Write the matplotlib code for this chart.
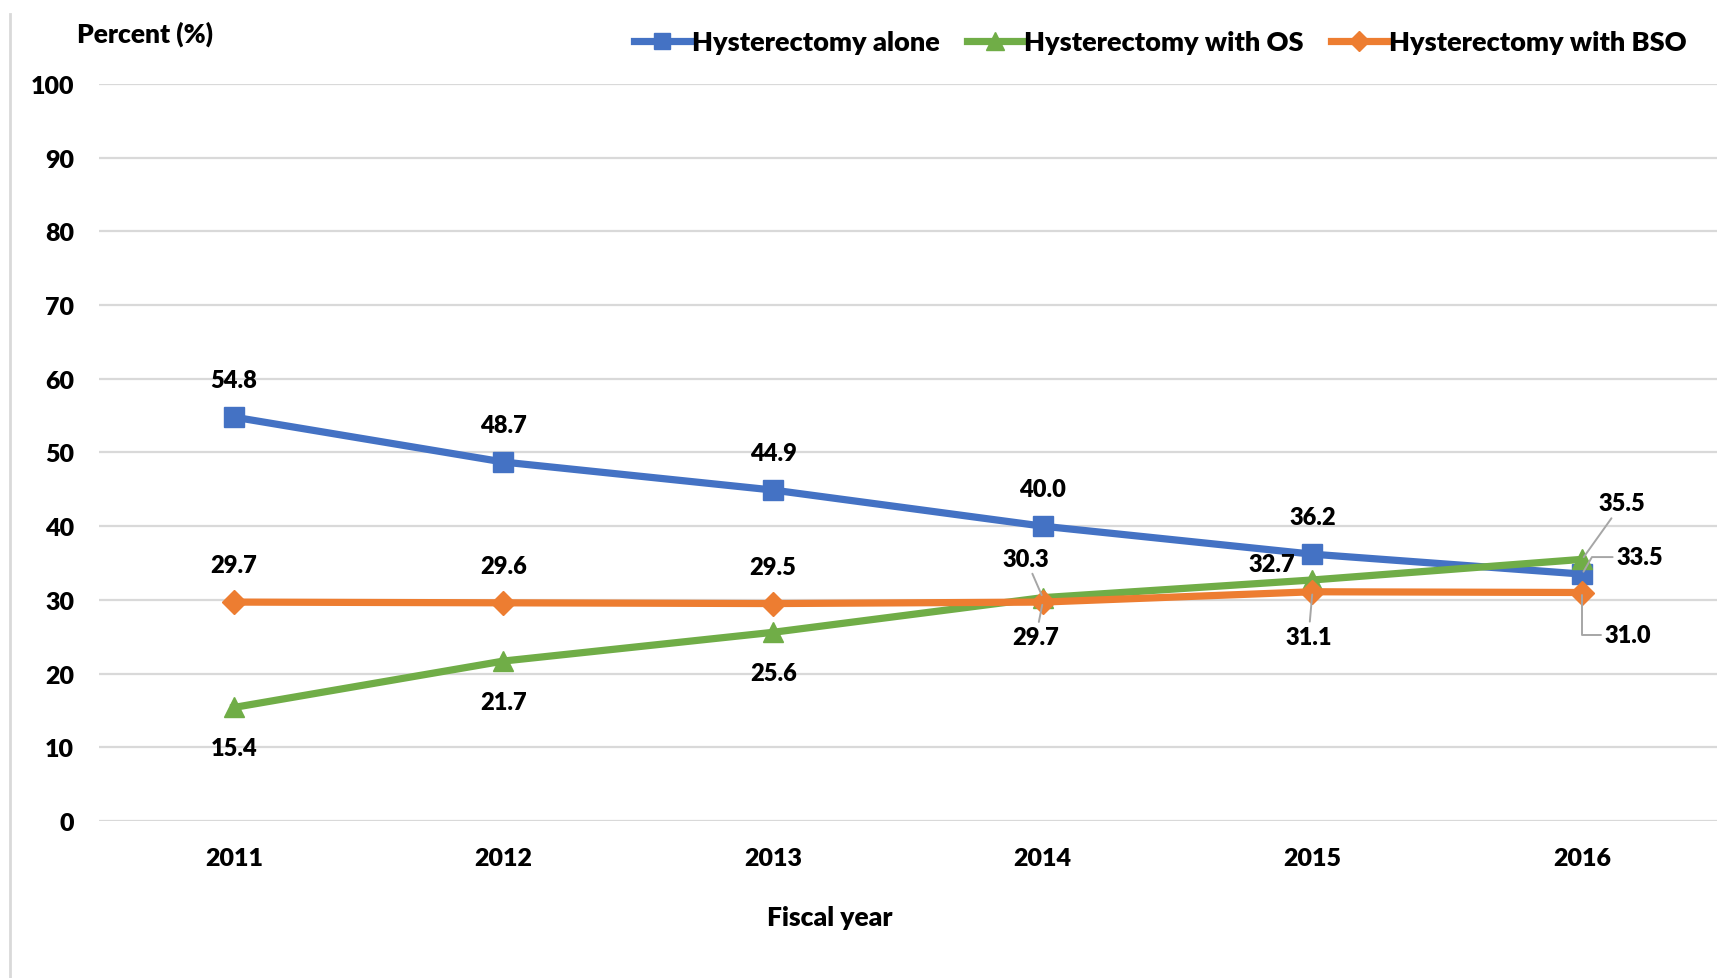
import matplotlib
matplotlib.use("Agg")
import matplotlib.pyplot as plt
from matplotlib.lines import Line2D

years = ["2011", "2012", "2013", "2014", "2015", "2016"]
alone = [54.8, 48.7, 44.9, 40.0, 36.2, 33.5]
with_os = [15.4, 21.7, 25.6, 30.3, 32.7, 35.5]
with_bso = [29.7, 29.6, 29.5, 29.7, 31.1, 31.0]
names = ["Hysterectomy alone", "Hysterectomy with OS", "Hysterectomy with BSO"]

plt.rcParams["font.family"] = ["Lato", "DejaVu Sans"]
plt.rcParams["font.weight"] = "heavy"

fig = plt.figure(figsize=(17.28, 9.79), dpi=100)
ax = fig.add_axes([0.0573, 0.1604, 0.9363, 0.7528])

x = list(range(len(years)))
blue, green, orange = "#4472C4", "#70AD47", "#ED7D31"
ax.plot(x, alone, color=blue, lw=5.2, marker="s", ms=14, label=names[0], zorder=3)
ax.plot(x, with_os, color=green, lw=5.2, marker="^", ms=15, label=names[1], zorder=4)
ax.plot(x, with_bso, color=orange, lw=5.2, marker="D", ms=12, label=names[2], zorder=5)

ax.set_xlim(-0.5, 5.5)
ax.set_ylim(0, 100)
ax.set_yticks(range(0, 101, 10))
ax.set_xticks(x)
ax.set_xticklabels(years)
ax.grid(axis="y", color="#d9d9d9", lw=1.6)
ax.set_axisbelow(True)
for s in ax.spines.values():
    s.set_visible(False)
ax.tick_params(length=0, labelsize=18)
ax.tick_params(axis="y", pad=18)
ax.tick_params(axis="x", pad=19)

# label offsets in pixels (dx, dy), leader style
lead = dict(arrowstyle="-", color="#a6a6a6", lw=1.4, shrinkA=1, shrinkB=2)
offs = {
    0: [(0, 37)] * 5 + [(58, 17)],
    1: [(0, -41)] * 3 + [(-17, 39), (-41, 16), (40, 56)],
    2: [(0, 37)] * 3 + [(-7, -35), (-4, -45), (46, -42)],
}
leaders = {
    (0, 5): "angle,angleA=0,angleB=60,rad=0",
    (1, 3): "arc3",
    (1, 5): "arc3",
    (2, 3): "arc3",
    (2, 4): "arc3",
    (2, 5): "angle,angleA=0,angleB=90,rad=0",
}
for k, series in enumerate([alone, with_os, with_bso]):
    for i, v in enumerate(series):
        dx, dy = offs[k][i]
        ap = None
        if (k, i) in leaders:
            ap = dict(lead, connectionstyle=leaders[(k, i)])
        ax.annotate(f"{v:.1f}", (i, v), xytext=(dx, dy), textcoords="offset pixels",
                    ha="center", va="center", fontsize=17, arrowprops=ap, zorder=6)

fig.legend(loc="upper right", bbox_to_anchor=(0.990, 0.993), ncol=3, frameon=False,
           fontsize=19.5, handlelength=2.05, handletextpad=0.08, columnspacing=1.0,
           markerscale=0.85)

fig.text(77 / 1728, 1 - 34 / 979, "Percent (%)", fontsize=19, ha="left", va="center")
fig.text(830 / 1728, 1 - 918 / 979, "Fiscal year", fontsize=19, ha="center", va="center")
fig.add_artist(Line2D([10 / 1728, 10 / 1728], [0, 0.985], color="#d9d9d9", lw=2))

fig.savefig("out.png", dpi=100)
